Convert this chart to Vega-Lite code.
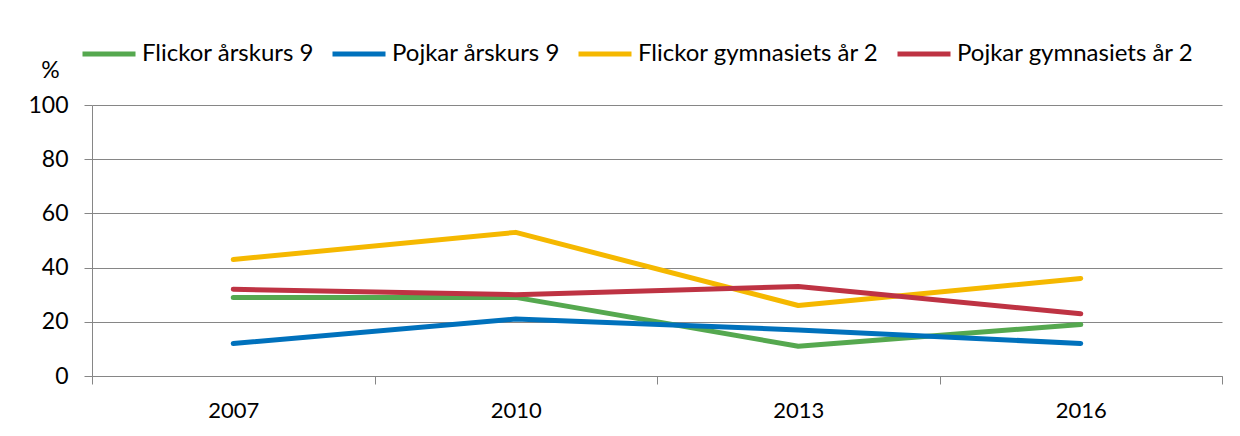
{
  "$schema": "https://vega.github.io/schema/vega-lite/v6.json",
  "width": 1130,
  "height": 271,
  "autosize": "none",
  "padding": {"left": 92, "top": 105, "right": 18, "bottom": 60},
  "background": "white",
  "config": {
    "view": {"stroke": null},
    "font": "Lato",
    "axis": {"labelFont": "Lato", "titleFont": "Lato", "labelColor": "#000000", "titleColor": "#000000"},
    "legend": {"labelFont": "Lato"}
  },
  "data": {
    "values": [
      {"year": 2007, "series": "Flickor årskurs 9", "value": 29},
      {"year": 2010, "series": "Flickor årskurs 9", "value": 29},
      {"year": 2013, "series": "Flickor årskurs 9", "value": 11},
      {"year": 2016, "series": "Flickor årskurs 9", "value": 19},
      {"year": 2007, "series": "Pojkar årskurs 9", "value": 12},
      {"year": 2010, "series": "Pojkar årskurs 9", "value": 21},
      {"year": 2013, "series": "Pojkar årskurs 9", "value": 17},
      {"year": 2016, "series": "Pojkar årskurs 9", "value": 12},
      {"year": 2007, "series": "Flickor gymnasiets år 2", "value": 43},
      {"year": 2010, "series": "Flickor gymnasiets år 2", "value": 53},
      {"year": 2013, "series": "Flickor gymnasiets år 2", "value": 26},
      {"year": 2016, "series": "Flickor gymnasiets år 2", "value": 36},
      {"year": 2007, "series": "Pojkar gymnasiets år 2", "value": 32},
      {"year": 2010, "series": "Pojkar gymnasiets år 2", "value": 30},
      {"year": 2013, "series": "Pojkar gymnasiets år 2", "value": 33},
      {"year": 2016, "series": "Pojkar gymnasiets år 2", "value": 23}
    ]
  },
  "resolve": {"axis": {"x": "independent"}},
  "layer": [
    {
      "mark": {"type": "line", "strokeWidth": 5, "strokeCap": "round", "strokeJoin": "round"},
      "encoding": {
        "x": {
          "field": "year", "type": "quantitative",
          "scale": {"domain": [2005.5, 2017.5], "nice": false, "zero": false},
          "axis": {
            "orient": "bottom",
            "values": [2005.5, 2008.5, 2011.5, 2014.5, 2017.5],
            "labels": false, "grid": false, "title": null,
            "ticks": true, "tickSize": 8, "tickColor": "#868686", "tickWidth": 1,
            "domain": true, "domainColor": "#868686", "domainWidth": 1
          }
        },
        "y": {
          "field": "value", "type": "quantitative",
          "scale": {"domain": [0, 100], "nice": false},
          "axis": {
            "values": [0, 20, 40, 60, 80, 100],
            "title": "%", "titleAngle": 0, "titleX": -42, "titleY": -28,
            "titleAlign": "center", "titleBaseline": "alphabetic",
            "titleFontSize": 23, "titleFontWeight": "normal",
            "labelFontSize": 23, "labelPadding": 16,
            "tickSize": 8, "tickColor": "#868686",
            "domainColor": "#868686", "gridColor": "#868686", "gridWidth": 1
          }
        },
        "color": {
          "field": "series", "type": "nominal",
          "scale": {
            "domain": ["Flickor årskurs 9", "Pojkar årskurs 9", "Flickor gymnasiets år 2", "Pojkar gymnasiets år 2"],
            "range": ["#55A84F", "#0071BC", "#F5B800", "#BE3343"]
          },
          "legend": {
            "title": null, "orient": "none", "direction": "horizontal",
            "legendX": -12, "legendY": -80,
            "symbolType": "stroke", "symbolSize": 2809, "symbolStrokeWidth": 5,
            "labelFontSize": 24, "labelColor": "#000000", "labelOffset": 4,
            "columnPadding": 8, "labelLimit": 400
          }
        }
      }
    },
    {
      "mark": {"type": "line", "opacity": 0},
      "encoding": {
        "x": {
          "field": "year", "type": "quantitative",
          "axis": {
            "orient": "bottom",
            "values": [2007, 2010, 2013, 2016], "format": "d",
            "ticks": false, "domain": false, "grid": false, "title": null,
            "labelFontSize": 22, "labelPadding": 24
          }
        },
        "y": {"field": "value", "type": "quantitative"},
        "detail": {"field": "series"}
      }
    }
  ]
}
